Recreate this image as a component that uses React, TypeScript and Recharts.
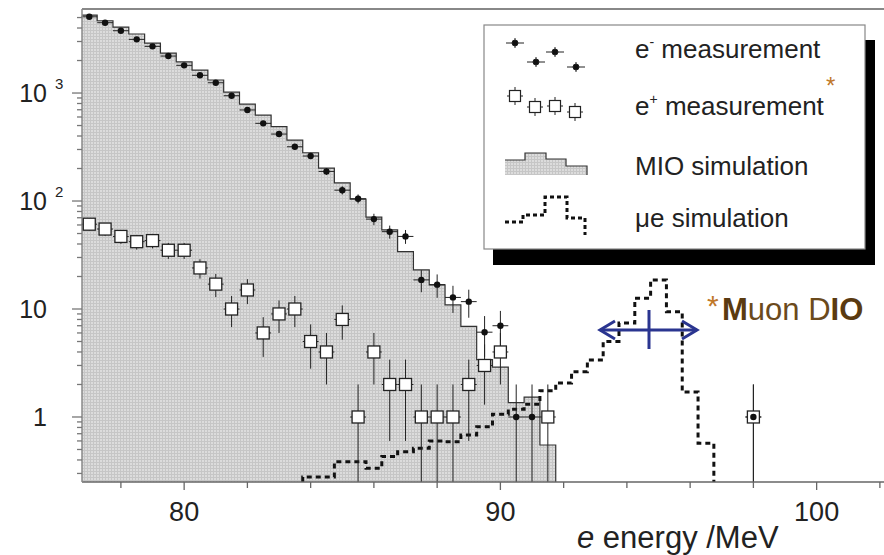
import { ComposedChart, Area, Line, Scatter, XAxis, YAxis, ErrorBar, ReferenceLine } from 'recharts'

// axis ranges
const Y_MIN = 0.25
const Y_MAX = 6000
const X_MIN = 76.77
const X_MAX = 102.13
const HALF_BIN = 0.25

// MIO simulation histogram (bin centres, MeV)
const binCenters = [
  77.0, 77.5, 78.0, 78.5, 79.0, 79.5, 80.0, 80.5, 81.0, 81.5,
  82.0, 82.5, 83.0, 83.5, 84.0, 84.5, 85.0, 85.5, 86.0, 86.5,
  87.0, 87.5, 88.0, 88.5, 89.0, 89.5, 90.0, 90.5, 91.0, 91.5,
]
const mioSim = [
  5270, 4670, 4080, 3520, 2900, 2345, 1940, 1633, 1320, 1020,
  790, 625, 488, 367, 280, 202, 147, 104, 71, 54,
  34, 23, 16.7, 10.9, 6.9, 3.4, 2.9, 1.36, 1.53, 0.55,
]

// e- measurement
const eMinusEnergy = [
  77.0, 77.5, 78.0, 78.5, 79.0, 79.5, 80.0, 80.5, 81.0, 81.5,
  82.0, 82.5, 83.0, 83.5, 84.0, 84.5, 85.0, 85.5, 86.0, 86.5,
  87.0, 87.5, 88.0, 88.5, 89.0, 89.5, 90.0, 90.5, 91.0, 98.0,
]
const eMinusCount = [
  5080, 4480, 3775, 3140, 2705, 2200, 1805, 1460, 1245, 944,
  697, 524, 417, 318, 261, 188, 126, 105, 68, 52,
  47, 18.6, 16.8, 12.8, 11.7, 6.1, 7.0, 1, 1, 1,
]
const eMinusErr = [
  71, 67, 61, 56, 52, 47, 42, 38, 35, 31,
  26, 23, 20, 18, 16, 14, 11, 10, 8.2, 7.2,
  6.9, 4.3, 4.1, 3.6, 3.4, 2.5, 2.6, 1, 1, 1,
]

// e+ measurement
const ePlusEnergy = [
  77.0, 77.5, 78.0, 78.5, 79.0, 79.5, 80.0, 80.5, 81.0, 81.5,
  82.0, 82.5, 83.0, 83.5, 84.0, 84.5, 85.0, 85.5, 86.0, 86.5,
  87.0, 87.5, 88.0, 88.5, 89.0, 89.5, 90.0, 91.5, 98.0,
]
const ePlusCount = [
  61, 55, 47, 42, 43, 35, 35, 24, 17, 10,
  15, 6, 9, 10, 5, 4, 8, 1, 4, 2,
  2, 1, 1, 1, 2, 3, 4, 1, 1,
]
const ePlusErr = [
  7.8, 7.4, 6.9, 6.5, 6.6, 5.9, 5.9, 4.9, 4.1, 3.2,
  3.9, 2.4, 3, 3.2, 2.2, 2, 2.8, 1, 2, 1.4,
  1.4, 1, 1, 1, 1.4, 1.7, 2, 1, 1,
]

// mu -> e simulation
const mueCenters = [
  84.0, 84.5, 85.0, 85.5, 86.0, 86.5, 87.0, 87.5, 88.0, 88.5,
  89.0, 89.5, 90.0, 90.5, 91.0, 91.5, 92.0, 92.5, 93.0, 93.5,
  94.0, 94.5, 95.0, 95.5, 96.0, 96.5,
]
const mueSim = [
  0.278, 0.278, 0.386, 0.386, 0.335, 0.43, 0.477, 0.513, 0.6, 0.59,
  0.68, 0.81, 1.06, 1.18, 1.31, 1.75, 2.06, 2.63, 3.37, 5.0,
  7.4, 12.6, 18.6, 9.45, 1.7, 0.57,
]

// ticks
const xTicks = [78, 80, 82, 84, 86, 88, 90, 92, 94, 96, 98, 100, 102]
const xLabelTicks = [80, 90, 100]
const yDecadeTicks = [1, 10, 100, 1000]
const yDecadeBase = ['1', '10', '10', '10']
const yDecadeSup = ['', '', '2', '3']
const yMinorTicks = [
  0.3, 0.4, 0.5, 0.6, 0.7, 0.8, 0.9,
  2, 3, 4, 5, 6, 7, 8, 9,
  20, 30, 40, 50, 60, 70, 80, 90,
  200, 300, 400, 500, 600, 700, 800, 900,
  2000, 3000, 4000, 5000,
]

const lastBin = binCenters[binCenters.length - 1]
const mioData = [
  ...binCenters.map((c, i) => ({ x: c - HALF_BIN, y: mioSim[i] })),
  { x: lastBin + HALF_BIN, y: Y_MIN },
]
const mueData = [
  { x: mueCenters[0] - HALF_BIN, y: Y_MIN },
  ...mueCenters.map((c, i) => ({ x: c - HALF_BIN, y: mueSim[i] })),
  { x: mueCenters[mueCenters.length - 1] + HALF_BIN, y: Y_MIN },
]
const eMinusData = eMinusEnergy.map((x, i) => ({
  x, y: eMinusCount[i], ex: HALF_BIN,
  ey: [Math.min(eMinusErr[i], eMinusCount[i] - Y_MIN), eMinusErr[i]],
}))
const ePlusData = ePlusEnergy.map((x, i) => ({
  x, y: ePlusCount[i], ex: HALF_BIN,
  ey: [Math.min(ePlusErr[i], ePlusCount[i] - Y_MIN), ePlusErr[i]],
}))

const INK = '#222'

function XTick({ x, y, payload }: any) {
  const major = xLabelTicks.includes(payload.value)
  return (
    <g>
      <line x1={x} x2={x} y1={y} y2={y + (major ? 8 : 6)} stroke="#666" strokeWidth={1.3} />
      {major && (
        <text x={x} y={y + 39} textAnchor="middle" fontSize={27} fill={INK}>{payload.value}</text>
      )}
    </g>
  )
}

function YTick({ x, y, payload }: any) {
  const idx = yDecadeTicks.indexOf(payload.value)
  const decade = idx >= 0
  return (
    <g>
      <line x1={x - (decade ? 10 : 5)} x2={x} y1={y} y2={y} stroke="#777" strokeWidth={1.3} />
      {decade && (
        <text x={x - 35} y={y + 9} textAnchor="end" fontSize={25} fill={INK}>{yDecadeBase[idx]}</text>
      )}
      {decade && yDecadeSup[idx] && (
        <text x={x - 27} y={y - 4} fontSize={15} fill={INK}>{yDecadeSup[idx]}</text>
      )}
    </g>
  )
}

const Dot = (p: any) => <circle cx={p.cx} cy={p.cy} r={3.2} fill="#111" />
const Box = (p: any) => (
  <rect x={p.cx - 6} y={p.cy - 6} width={12} height={12} fill="#fff" stroke={INK} strokeWidth={1.3} />
)

function Overlay() {
  return (
    <svg width={884} height={555} style={{ position: 'absolute', left: 0, top: 0, pointerEvents: 'none' }}>
      {/* legend with drop shadow */}
      <rect x={493} y={40} width={382} height={225} fill="#000" />
      <rect x={484} y={25} width={381} height={224} fill="#fff" stroke="#888" strokeWidth={1.2} />
      {[[515, 43], [536, 62], [555, 52], [576, 67]].map(([cx, cy], i) => (
        <g key={i} stroke={INK} strokeWidth={1}>
          <line x1={cx - 9} x2={cx + 9} y1={cy} y2={cy} />
          <line x1={cx} x2={cx} y1={cy - 5} y2={cy + 5} />
          <circle cx={cx} cy={cy} r={3} fill="#111" />
        </g>
      ))}
      {[[515, 96], [535, 107], [555, 106], [575, 112]].map(([cx, cy], i) => (
        <g key={i} stroke={INK} strokeWidth={1}>
          <line x1={cx - 8} x2={cx + 8} y1={cy} y2={cy} />
          <line x1={cx} x2={cx} y1={cy - 9} y2={cy + 9} />
          <rect x={cx - 5.5} y={cy - 5.5} width={11} height={11} fill="#fff" strokeWidth={1.2} />
        </g>
      ))}
      <path d="M505,175 V160 H525 V153 H546 V159 H566 V166 H587 V175 Z" fill="url(#mesh)" />
      <path d="M505,160 H525 V153 H546 V159 H566 V166 H587 V175" fill="none" stroke="#333" strokeWidth={1.2} />
      <path d="M505,222 H523 V215 H545 V197 H567 V218 H585 V235" fill="none" stroke="#111"
        strokeWidth={3} strokeDasharray="4 3" />
      <g fontSize={26} fill={INK}>
        <text x={635} y={58}>e<tspan fontSize={14} dy={-11}>-</tspan><tspan dy={11}> measurement</tspan></text>
        <text x={635} y={115}>e<tspan fontSize={14} dy={-11}>+</tspan><tspan dy={11}> measurement</tspan></text>
        <text x={635} y={175}>MIO simulation</text>
        <text x={635} y={227}>μe simulation</text>
      </g>
      <text x={826} y={94} fontSize={24} fill="#c0782a">*</text>

      {/* resolution arrow */}
      <g stroke="#2a3590" strokeWidth={3} fill="none">
        <line x1={600} x2={697} y1={330} y2={330} />
        <polyline points="615,321 600,330 615,339" />
        <polyline points="682,321 697,330 682,339" />
        <line x1={649} x2={649} y1={310} y2={349} />
      </g>
      <text x={707} y={316} fontSize={30} fill="#c0782a">*</text>
      <text x={722} y={320} fontSize={31} fill="#6b4a1c">
        <tspan fontWeight="bold" fill="#5a3a10">M</tspan>uon D<tspan fontWeight="bold" fill="#5a3a10">IO</tspan>
      </text>

      <text x={577} y={548} fontSize={31} fill={INK}>
        <tspan fontStyle="italic">e</tspan> energy /MeV
      </text>
    </svg>
  )
}

export default function App() {
  return (
    <div style={{ position: 'absolute', left: 0, top: 0, width: 884, height: 555, background: '#fff',
      fontFamily: '"Liberation Sans", Arial, Helvetica, sans-serif' }}>
      <ComposedChart width={884} height={555} margin={{ top: 9, right: 0, left: 0, bottom: 0 }}>
        <defs>
          <pattern id="mesh" width={3} height={3} patternUnits="userSpaceOnUse">
            <rect width={3} height={3} fill="#dcdcdc" />
            <path d="M0,0.5 H3 M0.5,0 V3" stroke="#c6c6c6" strokeWidth={1} />
          </pattern>
        </defs>
        <XAxis dataKey="x" type="number" domain={[X_MIN, X_MAX]} allowDataOverflow ticks={xTicks}
          interval={0} height={73} tickSize={0} tickMargin={0} tick={<XTick />}
          axisLine={{ stroke: '#666', strokeWidth: 1.5 }} tickLine={false} />
        <YAxis dataKey="y" type="number" scale="log" domain={[Y_MIN, Y_MAX]} allowDataOverflow
          ticks={[...yMinorTicks, ...yDecadeTicks].sort((a, b) => a - b)} interval={0} width={82}
          tickSize={0} tickMargin={0} tick={<YTick />}
          axisLine={{ stroke: '#888', strokeWidth: 1.5 }} tickLine={false} />
        <ReferenceLine y={Y_MAX} stroke="#888" strokeWidth={2} />
        <Area data={mioData} dataKey="y" type="stepAfter" baseValue={Y_MIN} fill="url(#mesh)" fillOpacity={1}
          stroke="#333" strokeWidth={1.2} isAnimationActive={false} />
        <Line data={mueData} dataKey="y" type="stepAfter" stroke="#111" strokeWidth={3}
          strokeDasharray="5 4" dot={false} isAnimationActive={false} />
        <Scatter data={ePlusData} dataKey="y" shape={Box} isAnimationActive={false}>
          <ErrorBar dataKey="ey" direction="y" width={0} stroke={INK} strokeWidth={1} />
          <ErrorBar dataKey="ex" direction="x" width={0} stroke={INK} strokeWidth={1} />
        </Scatter>
        <Scatter data={eMinusData} dataKey="y" shape={Dot} isAnimationActive={false}>
          <ErrorBar dataKey="ey" direction="y" width={0} stroke={INK} strokeWidth={1} />
          <ErrorBar dataKey="ex" direction="x" width={0} stroke={INK} strokeWidth={1} />
        </Scatter>
      </ComposedChart>
      <Overlay />
    </div>
  )
}
